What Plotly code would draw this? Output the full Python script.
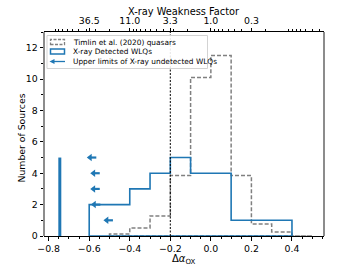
import numpy as np
import plotly.graph_objects as go

# ---------------- data ----------------
wlq_edges = [-0.6, -0.5, -0.4, -0.3, -0.2, -0.1, 0.0, 0.1, 0.2, 0.3, 0.4]
wlq_counts = [2, 2, 3, 4, 5, 4, 4, 1, 1, 1]

timlin_edges = [-0.5, -0.4, -0.3, -0.2, -0.1, 0.0, 0.1, 0.2, 0.3, 0.4, 0.5]
timlin_counts = [0.13, 0.51, 1.28, 3.85, 10.1, 11.5, 3.85, 0.77, 0.26, 0.0]

upper_limit_values = [-0.483, -0.545, -0.548, -0.548, -0.565]
upper_limit_levels = [1, 2, 3, 4, 5]

bar_x = [-0.745, -0.745]
bar_y = [0, 5]

divider_x = -0.2

top_tick_pos = [-0.6, -0.4, -0.2, 0.0, 0.2]
top_tick_text = ["36.5", "11.0", "3.3", "1.0", "0.3"]

legend_labels = ["Timlin et al. (2020) quasars",
                 "X-ray Detected WLQs",
                 "Upper limits of X-ray undetected WLQs"]

# ---------------- styles ----------------
BLUE = "#1f77b4"
GRAY = "#808080"
FONT = "DejaVu Sans"
XR = [-0.823, 0.558]
YR = [0, 13]
ML, MR, MT, MB = 44, 36, 32, 34
W, H = 360, 270
PW, PH = W - ML - MR, H - MT - MB
XSCALE = PW / (XR[1] - XR[0])  # px per data unit


def step_xy(edges, counts):
    xs, ys = [edges[0]], [0]
    for i, c in enumerate(counts):
        xs += [edges[i], edges[i + 1]]
        ys += [c, c]
    xs += [edges[-1], edges[0]]
    ys += [0, 0]
    return xs, ys


def px(x):
    return (x - ML) / PW


def py(y):
    return (H - MB - y) / PH


fig = go.Figure()

tx, ty = step_xy(timlin_edges, timlin_counts)
fig.add_trace(go.Scatter(x=tx, y=ty, mode="lines",
                         line=dict(color=GRAY, width=1.5, dash="4px,2px"),
                         showlegend=False, hoverinfo="skip"))

wx, wy = step_xy(wlq_edges, wlq_counts)
fig.add_trace(go.Scatter(x=wx, y=wy, mode="lines",
                         line=dict(color=BLUE, width=1.6),
                         showlegend=False, hoverinfo="skip"))

fig.add_trace(go.Scatter(x=bar_x, y=bar_y, mode="lines",
                         line=dict(color=BLUE, width=3),
                         showlegend=False, hoverinfo="skip"))

fig.add_trace(go.Scatter(x=[divider_x, divider_x], y=YR, mode="lines",
                         line=dict(color="black", width=1, dash="2px,1.5px"),
                         showlegend=False, hoverinfo="skip"))

# upper-limit arrows: shaft + triangular head pointing left
ARROW_PX = 9.5
HEAD_PX = 6.5
for v, lvl in zip(upper_limit_values, upper_limit_levels):
    head = v - ARROW_PX / XSCALE
    fig.add_trace(go.Scatter(x=[head + 2 / XSCALE, v], y=[lvl, lvl],
                             mode="lines", line=dict(color=BLUE, width=2.2),
                             showlegend=False, hoverinfo="skip"))
    fig.add_trace(go.Scatter(x=[head + (HEAD_PX / 2) / XSCALE], y=[lvl],
                             mode="markers",
                             marker=dict(symbol="triangle-left", size=HEAD_PX,
                                         color=BLUE, line=dict(width=0)),
                             showlegend=False, hoverinfo="skip"))

# invisible trace for top axis
fig.add_trace(go.Scatter(x=[XR[0]], y=[0], xaxis="x2", mode="markers",
                         marker=dict(opacity=0), showlegend=False,
                         hoverinfo="skip"))

annotations = []

# top axis minor ticks (log-scaled weakness factor)
minor_top = []
for e in range(-2, 3):
    for k in range(1, 10):
        f = k * 10.0 ** e
        p = -0.384 * np.log10(f)
        if XR[0] <= p <= XR[1]:
            minor_top.append(p)

shapes = []
# right & left spines (gray)
shapes.append(dict(type="line", xref="paper", yref="paper", x0=1, x1=1,
                   y0=0, y1=1, line=dict(color="#8c8c8c", width=2)))
shapes.append(dict(type="line", xref="paper", yref="paper", x0=0, x1=0,
                   y0=0, y1=1, line=dict(color="#8c8c8c", width=2)))

# manual legend
shapes.append(dict(type="rect", xref="paper", yref="paper",
                   x0=px(47), x1=px(207.5), y0=py(68.5), y1=py(35.5),
                   line=dict(color="#d3d3d3", width=1),
                   fillcolor="rgba(255,255,255,0.9)"))
rows = [42, 51.5, 61.5]
shapes.append(dict(type="rect", xref="paper", yref="paper",
                   x0=px(50.5), x1=px(64.5), y0=py(rows[0] + 2.5),
                   y1=py(rows[0] - 2.5),
                   line=dict(color=GRAY, width=1.3, dash="3px,1.5px")))
shapes.append(dict(type="rect", xref="paper", yref="paper",
                   x0=px(50.5), x1=px(64.5), y0=py(rows[1] + 2.5),
                   y1=py(rows[1] - 2.5),
                   line=dict(color=BLUE, width=1.5)))
shapes.append(dict(type="line", xref="paper", yref="paper",
                   x0=px(53), x1=px(65), y0=py(rows[2]), y1=py(rows[2]),
                   line=dict(color=BLUE, width=1.3)))
shapes.append(dict(type="path", xref="paper", yref="paper",
                   path=(f"M {px(49.5)},{py(rows[2])} "
                         f"L {px(54.5)},{py(rows[2] - 2.6)} "
                         f"L {px(54.5)},{py(rows[2] + 2.6)} Z"),
                   line=dict(color=BLUE, width=0), fillcolor=BLUE))
for lab, r in zip(legend_labels, rows):
    annotations.append(dict(x=px(70.5), y=py(r), xref="paper", yref="paper",
                            text=lab, showarrow=False, xanchor="left",
                            yanchor="middle",
                            font=dict(family=FONT, size=7.4, color="black")))

# axis titles
annotations.append(dict(x=px(184), y=py(259.5), xref="paper", yref="paper",
                        text="Δ<i>α</i><sub>OX</sub>", showarrow=False,
                        xanchor="center", yanchor="middle",
                        font=dict(family=FONT, size=10)))
annotations.append(dict(x=px(184), y=py(11.5), xref="paper", yref="paper",
                        text="X-ray Weakness Factor", showarrow=False,
                        xanchor="center", yanchor="middle",
                        font=dict(family=FONT, size=9.8)))
annotations.append(dict(x=px(21), y=py(138.5), xref="paper", yref="paper",
                        text="Number of Sources", showarrow=False,
                        textangle=-90, xanchor="center", yanchor="middle",
                        font=dict(family=FONT, size=9.3)))

fig.update_layout(
    width=W, height=H,
    margin=dict(l=ML, r=MR, t=MT, b=MB),
    plot_bgcolor="white", paper_bgcolor="white",
    font=dict(family=FONT, color="black"),
    showlegend=False,
    shapes=shapes,
    annotations=annotations,
    xaxis=dict(range=XR, dtick=0.2, tick0=0, tickformat=".1f",
               ticks="outside", ticklen=3.5, tickwidth=0.8, tickcolor="black",
               minor=dict(dtick=0.05, tick0=0, ticks="outside", ticklen=2,
                          tickwidth=0.6, tickcolor="black"),
               showline=True, linecolor="black", linewidth=1,
               showgrid=False, zeroline=False, automargin=False,
               tickfont=dict(size=9.4, family=FONT)),
    xaxis2=dict(range=XR, overlaying="x", side="top",
                tickvals=top_tick_pos, ticktext=top_tick_text,
                ticks="outside", ticklen=3.5, tickwidth=0.8,
                tickcolor="black",
                minor=dict(tickvals=minor_top, ticks="outside", ticklen=2,
                           tickwidth=0.6, tickcolor="black"),
                showline=True, linecolor="black", linewidth=1,
                showgrid=False, zeroline=False, automargin=False,
                tickfont=dict(size=9.4, family=FONT)),
    yaxis=dict(range=YR, dtick=2, tick0=0, ticks="outside", ticklen=3.5,
               tickwidth=0.8, tickcolor="black",
               minor=dict(dtick=1, tick0=0, ticks="outside", ticklen=2,
                          tickwidth=0.6, tickcolor="black"),
               showline=False, showgrid=False, zeroline=False,
               automargin=False,
               tickfont=dict(size=9.4, family=FONT)),
)

fig.write_html("out.html",
               config={"displayModeBar": False},
               post_script="document.body.style.margin='0';"
                           "document.body.style.overflow='hidden';")
